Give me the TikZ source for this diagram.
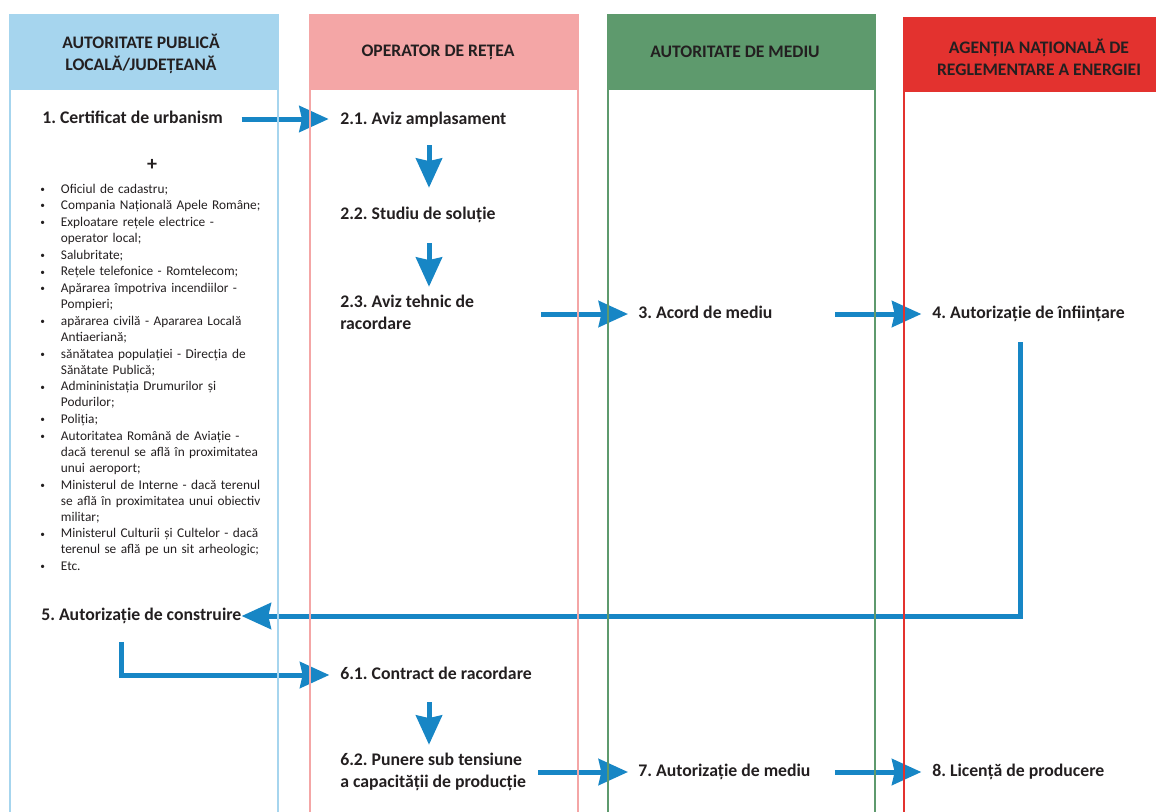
\documentclass[tikz,border=0pt]{standalone}
\usepackage{fontspec}
\setmainfont{Carlito}
\usetikzlibrary{arrows.meta}
\definecolor{hblue}{HTML}{A6D5EE}
\definecolor{hpink}{HTML}{F4A6A6}
\definecolor{hgreen}{HTML}{5E9A6D}
\definecolor{hred}{HTML}{E3322F}
\definecolor{ablue}{HTML}{1786C5}
\definecolor{txt}{HTML}{231F20}
\frenchspacing
\newcommand\bli{\par\vspace{0.55pt}\hangindent=15.5pt\hangafter=1\noindent\makebox[15.5pt][l]{\raisebox{0.6pt}{\fontsize{7}{7}\selectfont\textbullet}}}
\begin{document}
\begin{tikzpicture}[x=0.75pt,y=-0.75pt,
  lbl/.style={anchor=west, inner sep=0pt, font=\fontsize{13.3}{16.5}\selectfont\bfseries, text=txt, align=left},
  hdr/.style={align=center, inner sep=0pt, font=\fontsize{13.2}{16.5}\selectfont\bfseries, text=txt},
  arr/.style={draw=ablue, line width=3.75pt, -{Stealth[length=22pt,width=19.5pt,inset=2pt]}},
  colline/.style={line width=1.8pt}]
\useasboundingbox (0,0) rectangle (1156,811);
\clip (0,0) rectangle (1156,811);
% header fills
\fill[hblue] (9,14) rectangle (279,90);
\fill[hpink] (309,14) rectangle (579,90);
\fill[hgreen] (607,14) rectangle (876,90);
\fill[hred] (903,17) rectangle (1170,92);
% header texts
\node[hdr] (h1) at (141,54) {AUTORITATE PUBLICĂ\\LOCALĂ/JUDEȚEANĂ};
\node[hdr] (h2) at (438,52) {OPERATOR DE REȚEA};
\node[hdr] (h3) at (735,52) {AUTORITATE DE MEDIU};
\node[hdr] (h4) at (1039,57) {AGENȚIA NAȚIONALĂ DE\\REGLEMENTARE A ENERGIEI};
% labels
\node[lbl] (n1) at (42,119) {\strut 1. Certificat de urbanism};
\node[lbl] (n21) at (340,120) {\strut 2.1. Aviz amplasament};
\node[lbl] (n22) at (340,215) {\strut 2.2. Studiu de soluție};
\node[lbl] (n23) at (340,314) {\strut 2.3. Aviz tehnic de\\\strut racordare};
\node[lbl] (n3) at (638,314) {\strut 3. Acord de mediu};
\node[lbl] (n4) at (932,314) {\strut 4. Autorizație de înființare};
\node[lbl] (n5) at (41,616) {\strut 5. Autorizație de construire};
\node[lbl] (n61) at (340,675) {\strut 6.1. Contract de racordare};
\node[lbl] (n62) at (340,772) {\strut 6.2. Punere sub tensiune\\\strut a capacității de producție};
\node[lbl] (n7) at (638,772) {\strut 7. Autorizație de mediu};
\node[lbl] (n8) at (932,772) {\strut 8. Licență de producere};
% plus and list
\node[inner sep=0pt, font=\fontsize{15}{15}\selectfont\bfseries, text=txt] (plus) at (152,165) {+};
\node[anchor=north west, inner sep=0pt, text width=200pt, align=left, text=txt,
      font=\fontsize{10}{12}\selectfont] (lst) at (40,176) {%
\bli Oficiul de cadastru;
\bli Compania Națională Apele Române;
\bli Exploatare rețele electrice -\newline operator local;
\bli Salubritate;
\bli Rețele telefonice - Romtelecom;
\bli Apărarea împotriva incendiilor -\newline Pompieri;
\bli apărarea civilă - Apararea Locală\newline Antiaeriană;
\bli sănătatea populației - Direcția de\newline Sănătate Publică;
\bli Admininistația Drumurilor și\newline Podurilor;
\bli Poliția;
\bli Autoritatea Română de Aviație -\newline dacă terenul se află în proximitatea\newline unui aeroport;
\bli Ministerul de Interne - dacă terenul\newline se află în proximitatea unui obiectiv\newline militar;
\bli Ministerul Culturii și Cultelor - dacă\newline terenul se află pe un sit arheologic;
\bli Etc.\par};
% arrows
\draw[arr, shorten <=14pt, shorten >=8.5pt] (n1.east) -- (n1.east -| n21.west);
\draw[arr, shorten <=10.5pt, shorten >=12pt] ([xshift=66.75pt]n21.south west) -- ([xshift=66.75pt]n22.north west);
\draw[arr, shorten <=12.75pt, shorten >=3.75pt] ([xshift=66.75pt]n22.south west) -- ([xshift=66.75pt]n23.north west);
\draw[arr, shorten <=50pt, shorten >=7.5pt] (n23.east) -- (n3.west);
\draw[arr, shorten <=47pt, shorten >=8pt] (n3.east) -- (n4.west);
\draw[arr, shorten <=12.75pt, shorten >=0pt] ([xshift=66pt]n4.south west) |- (n5.east);
\draw[arr, shorten <=11pt, shorten >=8pt] ([xshift=60pt]n5.south west) |- (n61.west);
\draw[arr, shorten <=12pt, shorten >=3.75pt] ([xshift=66.75pt]n61.south west) -- ([xshift=66.75pt]n62.north west);
\draw[arr, shorten <=9pt, shorten >=7.5pt] (n62.east) -- (n7.west);
\draw[arr, shorten <=18pt, shorten >=8pt] (n7.east) -- (n8.west);
% column side lines
\draw[colline, hblue] (10,90) -- (10,820) (278,90) -- (278,820);
\draw[colline, hpink] (310,90) -- (310,820) (578,90) -- (578,820);
\draw[colline, hgreen] (608,90) -- (608,820) (875,90) -- (875,820);
\draw[colline, hred] (904,92) -- (904,820);
\end{tikzpicture}
\end{document}
